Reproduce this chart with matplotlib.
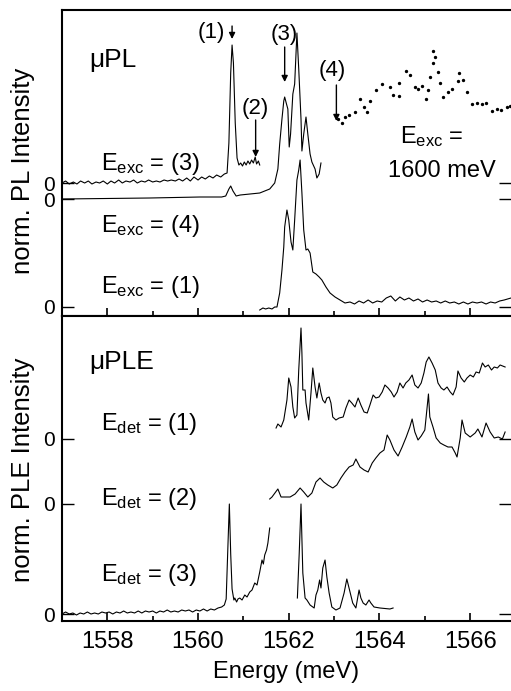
import numpy as np
import matplotlib.pyplot as plt
from matplotlib.ticker import MultipleLocator

plt.rcParams['font.family'] = ['Liberation Sans', 'DejaVu Sans']
plt.rcParams['mathtext.fontset'] = 'custom'
plt.rcParams['mathtext.rm'] = 'Liberation Sans'
plt.rcParams['mathtext.it'] = 'Liberation Sans:italic'

# ---------------- data (energy in meV, normalized intensity) ----------------
# muPL, E_exc = (3)
pl3_e = [1557.00, 1557.08, 1557.16, 1557.25, 1557.33, 1557.41, 1557.50, 1557.58, 1557.66, 1557.75,
         1557.83, 1557.91, 1558.00, 1558.08, 1558.16, 1558.25, 1558.33, 1558.41, 1558.50, 1558.58,
         1558.66, 1558.75, 1558.83, 1558.91, 1559.00, 1559.08, 1559.16, 1559.25, 1559.33, 1559.41,
         1559.50, 1559.58, 1559.66, 1559.75, 1559.83, 1559.91, 1560.00, 1560.08, 1560.16, 1560.25,
         1560.33, 1560.41, 1560.50, 1560.58, 1560.64, 1560.68, 1560.72, 1560.75, 1560.78, 1560.82,
         1560.86, 1560.90, 1560.94, 1560.98, 1561.02, 1561.06, 1561.10, 1561.14, 1561.18, 1561.22,
         1561.26, 1561.29, 1561.33, 1561.36]
pl3_i = [0.00, 0.02, -0.01, 0.01, -0.01, 0.02, 0.00, 0.02, -0.01, 0.01,
         0.00, 0.02, -0.01, 0.02, 0.00, 0.03, 0.00, 0.02, 0.01, 0.03,
         0.00, 0.02, 0.01, 0.03, 0.01, 0.02, 0.01, 0.03, 0.02, 0.03,
         0.02, 0.04, 0.02, 0.05, 0.02, 0.06, 0.03, 0.06, 0.04, 0.07,
         0.05, 0.08, 0.06, 0.09, 0.10, 0.40, 1.10, 1.38, 1.20, 0.60,
         0.25, 0.18, 0.20, 0.17, 0.21, 0.18, 0.22, 0.19, 0.23, 0.20,
         0.26, 0.19, 0.22, 0.18]

# muPL, E_exc = (4)
pl4_e = [1557.00, 1558.93, 1560.04, 1560.52, 1560.61, 1560.68, 1560.72, 1560.77, 1560.84, 1560.93,
         1561.36, 1561.58, 1561.69, 1561.76, 1561.80, 1561.85, 1561.89, 1561.91, 1561.95, 1561.98,
         1562.01, 1562.04, 1562.09, 1562.13, 1562.18, 1562.22, 1562.27, 1562.29, 1562.33, 1562.38,
         1562.42, 1562.47, 1562.51, 1562.58, 1562.62, 1562.67, 1562.71]
pl4_i = [0.00, 0.01, 0.02, 0.02, 0.03, 0.10, 0.13, 0.08, 0.03, 0.04,
         0.06, 0.10, 0.16, 0.30, 0.55, 0.80, 0.98, 1.02, 0.95, 0.90,
         0.52, 0.65, 1.05, 1.15, 1.66, 1.30, 0.80, 0.48, 0.65, 0.82,
         0.65, 0.45, 0.37, 0.30, 0.21, 0.25, 0.36]

# muPL, E_exc = (1)
pl1_e = [1561.36, 1561.43, 1561.49, 1561.56, 1561.63, 1561.69, 1561.74, 1561.80, 1561.85, 1561.89,
         1561.91, 1561.96, 1562.00, 1562.05, 1562.09, 1562.13, 1562.18, 1562.22, 1562.25, 1562.29,
         1562.33, 1562.38, 1562.42, 1562.47, 1562.53, 1562.60, 1562.67, 1562.73, 1562.82, 1562.91,
         1563.02, 1563.13, 1563.24, 1563.35, 1563.45, 1563.55, 1563.65, 1563.75, 1563.85, 1563.95,
         1564.05, 1564.15, 1564.25, 1564.35, 1564.45, 1564.55, 1564.65, 1564.75, 1564.85, 1564.95,
         1565.05, 1565.15, 1565.25, 1565.35, 1565.45, 1565.55, 1565.65, 1565.75, 1565.85, 1565.95,
         1566.05, 1566.15, 1566.25, 1566.35, 1566.45, 1566.55, 1566.65, 1566.75, 1566.90]
pl1_i = [-0.03, -0.01, -0.02, -0.01, -0.02, 0.00, 0.00, 0.14, 0.37, 0.60,
         0.80, 0.97, 0.87, 0.65, 0.57, 0.87, 1.27, 1.37, 1.47, 1.14,
         0.77, 0.57, 0.58, 0.54, 0.35, 0.33, 0.30, 0.27, 0.20, 0.14,
         0.10, 0.07, 0.04, 0.05, 0.03, 0.06, 0.04, 0.07, 0.04, 0.06,
         0.05, 0.09, 0.11, 0.06, 0.10, 0.07, 0.09, 0.06, 0.08, 0.05,
         0.07, 0.05, 0.06, 0.04, 0.06, 0.04, 0.05, 0.03, 0.05, 0.03,
         0.05, 0.04, 0.05, 0.03, 0.05, 0.04, 0.06, 0.07, 0.09]

# muPL, E_exc = 1600 meV (dotted)
pl1600_e = [1563.09, 1563.17, 1563.24, 1563.33, 1563.46, 1563.57, 1563.66, 1563.72, 1563.79, 1563.92,
            1564.05, 1564.23, 1564.30, 1564.42, 1564.44, 1564.59, 1564.67, 1564.78, 1564.86, 1564.93,
            1565.03, 1565.08, 1565.11, 1565.17, 1565.19, 1565.23, 1565.30, 1565.34, 1565.40, 1565.51,
            1565.59, 1565.74, 1565.76, 1565.85, 1565.94, 1566.04, 1566.15, 1566.26, 1566.35, 1566.48,
            1566.59, 1566.68, 1566.81, 1566.88]
pl1600_i = [0.07, 0.03, 0.09, 0.11, 0.14, 0.27, 0.19, 0.14, 0.25, 0.36,
            0.42, 0.39, 0.31, 0.30, 0.43, 0.55, 0.51, 0.39, 0.37, 0.40,
            0.27, 0.36, 0.49, 0.63, 0.75, 0.69, 0.54, 0.43, 0.29, 0.34,
            0.37, 0.45, 0.53, 0.46, 0.34, 0.22, 0.23, 0.22, 0.23, 0.15,
            0.17, 0.16, 0.19, 0.20]

# muPLE, E_det = (1)
ple1_e = [1561.72, 1561.76, 1561.83, 1561.89, 1561.96, 1562.00, 1562.05, 1562.09, 1562.13, 1562.18,
          1562.22, 1562.27, 1562.29, 1562.31, 1562.36, 1562.38, 1562.44, 1562.49, 1562.53, 1562.58,
          1562.62, 1562.67, 1562.71, 1562.75, 1562.80, 1562.84, 1562.89, 1562.93, 1562.97, 1563.04,
          1563.11, 1563.20, 1563.26, 1563.33, 1563.39, 1563.46, 1563.53, 1563.59, 1563.66, 1563.73,
          1563.79, 1563.86, 1563.92, 1563.99, 1564.06, 1564.12, 1564.19, 1564.26, 1564.32, 1564.39,
          1564.45, 1564.52, 1564.58, 1564.65, 1564.72, 1564.78, 1564.85, 1564.92, 1564.98, 1565.03,
          1565.09, 1565.16, 1565.23, 1565.29, 1565.36, 1565.42, 1565.49, 1565.56, 1565.62, 1565.69,
          1565.73, 1565.80, 1565.87, 1565.93, 1566.00, 1566.07, 1566.13, 1566.20, 1566.27, 1566.33,
          1566.40, 1566.47, 1566.53, 1566.60, 1566.66, 1566.77]
ple1_i = [0.11, 0.15, 0.12, 0.19, 0.39, 0.61, 0.52, 0.32, 0.21, 0.24,
          0.69, 1.11, 0.86, 0.49, 0.49, 0.36, 0.19, 0.46, 0.71, 0.52,
          0.41, 0.56, 0.46, 0.39, 0.36, 0.41, 0.42, 0.36, 0.22, 0.19,
          0.21, 0.22, 0.31, 0.39, 0.36, 0.32, 0.41, 0.34, 0.27, 0.26,
          0.34, 0.44, 0.41, 0.42, 0.47, 0.54, 0.51, 0.47, 0.42, 0.47,
          0.56, 0.51, 0.56, 0.59, 0.64, 0.54, 0.51, 0.56, 0.66, 0.77,
          0.82, 0.76, 0.69, 0.56, 0.51, 0.49, 0.52, 0.47, 0.44, 0.52,
          0.68, 0.61, 0.57, 0.61, 0.64, 0.62, 0.67, 0.66, 0.76, 0.72,
          0.74, 0.69, 0.72, 0.71, 0.74, 0.72]

# muPLE, E_det = (2)
ple2_e = [1561.58, 1561.63, 1561.76, 1561.83, 1561.92, 1562.03, 1562.14, 1562.25, 1562.33, 1562.42,
          1562.51, 1562.60, 1562.69, 1562.77, 1562.86, 1562.97, 1563.06, 1563.15, 1563.24, 1563.33,
          1563.42, 1563.48, 1563.57, 1563.66, 1563.75, 1563.84, 1563.92, 1564.01, 1564.10, 1564.17,
          1564.23, 1564.32, 1564.41, 1564.50, 1564.59, 1564.67, 1564.72, 1564.78, 1564.85, 1564.92,
          1565.00, 1565.08, 1565.11, 1565.18, 1565.25, 1565.34, 1565.42, 1565.51, 1565.60, 1565.67,
          1565.71, 1565.78, 1565.82, 1565.89, 1566.00, 1566.11, 1566.17, 1566.26, 1566.35, 1566.44,
          1566.53, 1566.62, 1566.71, 1566.77]
ple2_i = [0.05, 0.07, 0.15, 0.07, 0.07, 0.07, 0.10, 0.16, 0.12, 0.07,
          0.11, 0.22, 0.26, 0.22, 0.19, 0.16, 0.19, 0.26, 0.32, 0.37,
          0.39, 0.45, 0.37, 0.34, 0.32, 0.41, 0.46, 0.51, 0.54, 0.69,
          0.64, 0.54, 0.48, 0.57, 0.67, 0.77, 0.85, 0.72, 0.64, 0.68,
          0.74, 1.10, 0.87, 0.77, 0.66, 0.61, 0.59, 0.57, 0.57, 0.51,
          0.47, 0.66, 0.84, 0.71, 0.67, 0.71, 0.75, 0.67, 0.81, 0.72,
          0.66, 0.67, 0.65, 0.72]

# muPLE, E_det = (3), two scans
ple3a_e = [1557.00, 1557.08, 1557.16, 1557.24, 1557.32, 1557.40, 1557.48, 1557.56, 1557.64, 1557.72,
           1557.80, 1557.88, 1557.96, 1558.04, 1558.12, 1558.20, 1558.28, 1558.36, 1558.44, 1558.52,
           1558.60, 1558.68, 1558.76, 1558.84, 1558.92, 1559.00, 1559.08, 1559.16, 1559.24, 1559.32,
           1559.40, 1559.48, 1559.56, 1559.64, 1559.72, 1559.80, 1559.88, 1559.96, 1560.04, 1560.12,
           1560.20, 1560.28, 1560.36, 1560.44, 1560.52, 1560.58, 1560.62, 1560.66, 1560.69, 1560.72,
           1560.75, 1560.79, 1560.81, 1560.85, 1560.88, 1560.92, 1560.97, 1561.03, 1561.08, 1561.14,
           1561.19, 1561.25, 1561.30, 1561.36, 1561.41, 1561.44, 1561.47, 1561.51, 1561.54, 1561.58]
ple3a_i = [0.00, 0.02, 0.00, 0.01, -0.01, 0.01, 0.00, 0.02, 0.00, 0.01,
           0.00, 0.02, 0.01, 0.02, 0.00, 0.02, 0.01, 0.03, 0.01, 0.02,
           0.01, 0.03, 0.01, 0.03, 0.02, 0.03, 0.01, 0.03, 0.02, 0.04,
           0.02, 0.03, 0.02, 0.04, 0.03, 0.04, 0.02, 0.04, 0.03, 0.05,
           0.03, 0.05, 0.04, 0.06, 0.07, 0.09, 0.15, 0.70, 1.10, 0.60,
           0.25, 0.14, 0.16, 0.12, 0.15, 0.16, 0.14, 0.19, 0.17, 0.22,
           0.24, 0.31, 0.29, 0.42, 0.54, 0.50, 0.59, 0.64, 0.71, 0.86]
ple3b_e = [1562.19, 1562.23, 1562.27, 1562.29, 1562.31, 1562.36, 1562.40, 1562.47, 1562.56, 1562.60,
           1562.64, 1562.68, 1562.71, 1562.75, 1562.80, 1562.84, 1562.89, 1562.95, 1563.04, 1563.13,
           1563.22, 1563.28, 1563.34, 1563.41, 1563.48, 1563.55, 1563.59, 1563.64, 1563.70, 1563.77,
           1563.81, 1563.88, 1564.01, 1564.23, 1564.30]
ple3b_i = [0.16, 0.60, 1.10, 0.75, 0.41, 0.16, 0.14, 0.09, 0.06, 0.19,
           0.24, 0.34, 0.26, 0.46, 0.54, 0.37, 0.21, 0.07, 0.04, 0.06,
           0.21, 0.35, 0.24, 0.11, 0.06, 0.24, 0.16, 0.11, 0.09, 0.14,
           0.11, 0.07, 0.06, 0.05, 0.06]

# peak energies marked by arrows in the PL panel
peak_labels = ['(1)', '(2)', '(3)', '(4)']
peak_e = [1560.75, 1561.27, 1561.91, 1563.05]

# ---------------- figure ----------------
fig = plt.figure(figsize=(5.11, 6.91), dpi=100)
ax1 = fig.add_axes([0.1213, 0.5427, 0.8787, 0.4428])
ax2 = fig.add_axes([0.1213, 0.1013, 0.8787, 0.4414])

lw = 0.8
# vertical offsets of the stacked traces
off_pl3, off_pl4, off_pl1, off_1600 = 1.33, 1.17, 0.09, 1.90
off_ple1, off_ple2, off_ple3 = 1.82, 1.17, 0.07

ax1.plot(pl3_e, off_pl3 + np.array(pl3_i), color='black', lw=lw)
ax1.plot(pl4_e, off_pl4 + np.array(pl4_i), color='black', lw=lw)
ax1.plot(pl1_e, off_pl1 + np.array(pl1_i), color='black', lw=lw)
ax1.plot(pl1600_e, off_1600 + np.array(pl1600_i), ls='none', marker='o',
         ms=1.4, color='black')

ax2.plot(ple1_e, off_ple1 + np.array(ple1_i), color='black', lw=lw)
ax2.plot(ple2_e, off_ple2 + np.array(ple2_i), color='black', lw=lw)
ax2.plot(ple3a_e, off_ple3 + np.array(ple3a_i), color='black', lw=lw)
ax2.plot(ple3b_e, off_ple3 + np.array(ple3b_i), color='black', lw=lw)

# arrows and peak labels
arrow_tip = [2.77, 1.59, 2.34, 1.95]
arrow_tail = [2.90, 1.96, 2.69, 2.31]
label_xy = [(1560.30, 2.84), (1561.27, 2.08), (1561.89, 2.82), (1562.95, 2.46)]
for lab, e, tip, tail, (lx, ly) in zip(peak_labels, peak_e, arrow_tip, arrow_tail, label_xy):
    ax1.annotate('', xy=(e, tip), xytext=(e, tail),
                 arrowprops=dict(arrowstyle='-|>', color='black', lw=1.0,
                                 mutation_scale=9, shrinkA=0, shrinkB=0))
    ax1.text(lx, ly, lab, fontsize=16, ha='center', va='center')

tfs = 17
ax1.text(1557.61, 2.49, 'μPL', fontsize=19)
ax1.text(1557.87, 1.46, r'E$_{\rm exc}$ = (3)', fontsize=tfs)
ax1.text(1557.87, 0.84, r'E$_{\rm exc}$ = (4)', fontsize=tfs)
ax1.text(1557.87, 0.23, r'E$_{\rm exc}$ = (1)', fontsize=tfs)
ax1.text(1564.45, 1.73, r'E$_{\rm exc}$ =', fontsize=tfs)
ax1.text(1564.19, 1.39, '1600 meV', fontsize=tfs)

ax2.text(1557.61, 2.52, 'μPLE', fontsize=19)
ax2.text(1557.87, 1.91, r'E$_{\rm det}$ = (1)', fontsize=tfs)
ax2.text(1557.87, 1.16, r'E$_{\rm det}$ = (2)', fontsize=tfs)
ax2.text(1557.87, 0.40, r'E$_{\rm det}$ = (3)', fontsize=tfs)

# axes styling
for ax in (ax1, ax2):
    ax.set_xlim(1557.0, 1566.9)
    ax.xaxis.set_major_locator(MultipleLocator(2))
    ax.xaxis.set_minor_locator(MultipleLocator(1))
    ax.tick_params(axis='x', which='major', direction='in', length=6, width=1.2,
                   labelsize=17, pad=7, top=False)
    ax.tick_params(axis='x', which='minor', direction='in', length=3.5, width=1.2, top=False)
    ax.tick_params(axis='y', which='major', direction='in', length=8.5, width=1.0,
                   labelsize=15, pad=5, right=True)
    ax.spines['right'].set_visible(False)
    for s in ('left', 'top', 'bottom'):
        ax.spines[s].set_linewidth(1.5)

ax1.set_ylim(0, 3.06)
ax1.set_yticks([off_pl1, off_pl4, off_pl3])
ax1.set_yticklabels(['0', '0', '0'])
ax1.tick_params(axis='x', labelbottom=False)

ax2.set_ylim(0, 3.05)
ax2.set_yticks([off_ple3, off_ple2, off_ple1])
ax2.set_yticklabels(['0', '0', '0'])
ax2.set_xlabel('Energy (meV)', fontsize=17, labelpad=6)

fig.text(0.045, 0.7525, 'norm. PL Intensity', rotation=90, fontsize=18.5,
         ha='center', va='center')
fig.text(0.045, 0.320, 'norm. PLE Intensity', rotation=90, fontsize=18.5,
         ha='center', va='center')

fig.savefig('out.png', dpi=100)
